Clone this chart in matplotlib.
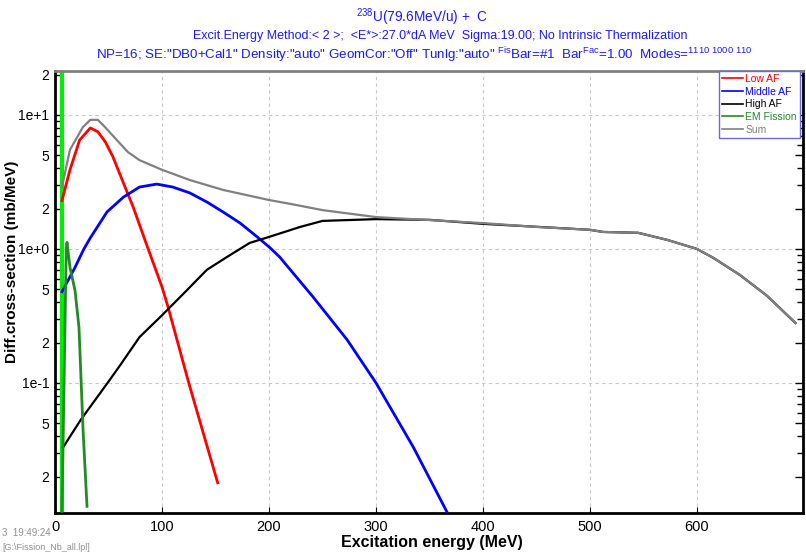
import matplotlib
matplotlib.use("Agg")
import matplotlib.pyplot as plt
from matplotlib.ticker import FixedLocator, FixedFormatter, NullFormatter

FAM = ["Liberation Sans Narrow", "Liberation Sans", "DejaVu Sans"]
plt.rcParams["font.family"] = FAM
plt.rcParams["mathtext.fontset"] = "custom"
plt.rcParams["mathtext.rm"] = "Liberation Sans"
plt.rcParams["mathtext.default"] = "regular"

# Low AF
low_e = [6.5, 14, 23, 33, 40, 47, 54, 64, 73, 84, 100, 105.6, 125, 152]
low_y = [2.3, 3.9, 6.5, 8.0, 7.5, 6.3, 4.9, 3.1, 2.06, 1.17, 0.52, 0.37, 0.1, 0.018]

# Middle AF
mid_e = [6.5, 18, 27, 33, 48.6, 64, 79, 95, 110, 126, 142, 157, 173, 189, 201,
         210, 241, 273, 300, 335, 366]
mid_y = [0.48, 0.71, 1.0, 1.21, 1.89, 2.44, 2.9, 3.05, 2.9, 2.62, 2.24, 1.89,
         1.56, 1.23, 1.02, 0.87, 0.44, 0.21, 0.1, 0.033, 0.011]

# High AF
high_e = [7.5, 24, 51, 61, 79, 100, 123, 142, 163.5, 182, 200, 229, 250, 300,
          350, 400, 453, 500, 512, 545, 572, 600, 615, 640, 665, 692]
high_y = [0.033, 0.053, 0.105, 0.136, 0.22, 0.32, 0.49, 0.70, 0.90, 1.11, 1.23,
          1.46, 1.62, 1.67, 1.65, 1.54, 1.46, 1.39, 1.34, 1.32, 1.17, 1.0,
          0.86, 0.64, 0.45, 0.28]

# EM fission
em_e = [6.5, 9.3, 10.5, 11.2, 14, 18.7, 22.4, 26.2, 29.9]
em_y = [0.011, 0.26, 1.0, 1.12, 0.73, 0.49, 0.26, 0.045, 0.012]
em_edge = 6.1

# Sum
sum_e = [6.5, 14, 26, 33, 40, 45, 68, 79, 100, 126, 157, 200, 220, 250, 300,
         400, 450, 500, 512, 545, 572, 600, 615, 640, 665, 692]
sum_y = [2.9, 5.5, 8.1, 9.2, 9.2, 8.4, 5.3, 4.6, 3.9, 3.27, 2.76, 2.32, 2.17,
         1.95, 1.73, 1.56, 1.46, 1.39, 1.34, 1.32, 1.17, 1.0, 0.86, 0.64,
         0.45, 0.28]

fig = plt.figure(figsize=(8.06, 5.55), dpi=100)
fig.patch.set_facecolor("white")
ax = fig.add_axes([55 / 806, 1 - 513 / 555, 748 / 806, 442 / 555])

ax.axvline(em_edge, color="#00ee00", lw=3, zorder=2)
ax.plot(low_e, low_y, color="#ff0000", lw=2, label="Low AF", zorder=3)
ax.plot(mid_e, mid_y, color="#0000ff", lw=2, label="Middle AF", zorder=3)
ax.plot(high_e, high_y, color="black", lw=1.6, label="High AF", zorder=3)
ax.plot(em_e, em_y, color="#228b22", lw=2, label="EM Fission", zorder=3)
ax.plot(sum_e, sum_y, color="#808080", lw=1.6, label="Sum", zorder=4)

ax.set_yscale("log")
ax.set_xlim(0, 699)
ax.set_ylim(0.0107, 21.3)

# y ticks
maj = [0.02, 0.05, 0.1, 0.2, 0.5, 1, 2, 5, 10, 20]
maj_lab = ["2", "5", "1e-1", "2", "5", "1e+0", "2", "5", "1e+1", "2"]
mnr = [0.03, 0.04, 0.06, 0.07, 0.08, 0.09, 0.3, 0.4, 0.6, 0.7, 0.8, 0.9,
       3, 4, 6, 7, 8, 9]
ax.yaxis.set_major_locator(FixedLocator(maj))
ax.yaxis.set_major_formatter(FixedFormatter(maj_lab))
ax.yaxis.set_minor_locator(FixedLocator(mnr))
ax.yaxis.set_minor_formatter(NullFormatter())
ax.set_xticks([0, 100, 200, 300, 400, 500, 600])

ax.tick_params(axis="y", which="both", direction="in", right=True,
               labelsize=10, pad=4)
ax.tick_params(axis="y", which="major", length=6, width=1)
ax.tick_params(axis="y", which="minor", length=4, width=1)
ax.tick_params(axis="x", direction="in", length=4, labelsize=10.5, pad=5)

# grid on decades and hundreds only
for v in [0.1, 1, 10]:
    ax.axhline(v, color="#c8c8c8", lw=0.8, ls=(0, (3, 3)), zorder=1)
for v in [100, 200, 300, 400, 500, 600]:
    ax.axvline(v, color="#c8c8c8", lw=0.8, ls=(0, (3, 3)), zorder=1)

for side in ["left", "bottom", "right"]:
    ax.spines[side].set_linewidth(2)
    ax.spines[side].set_color("black")
ax.spines["top"].set_linewidth(2)
ax.spines["top"].set_color("#808080")

leg = ax.legend(loc="upper right", bbox_to_anchor=(0.996, 1.0),
                borderaxespad=0, fontsize=7.5, handlelength=2.0,
                handletextpad=0.2, labelspacing=0.25, fancybox=False,
                framealpha=1, borderpad=0.3)
leg.get_frame().set_edgecolor("#6a6ae0")
leg.get_frame().set_linewidth(1)
for txt, line in zip(leg.get_texts(), leg.get_lines()):
    txt.set_color(line.get_color())
    line.set_linewidth(1.2)

# titles
tcol = "#1a1aff"
fig.text(422 / 806, 1 - 17 / 555, "$^{238}$U(79.6MeV/u) +  C",
         ha="center", va="center", color=tcol, fontsize=9.8)
fig.text(440 / 806, 1 - 36 / 555,
         "Excit.Energy Method:< 2 >;  <E*>:27.0*dA MeV  Sigma:19.00; No Intrinsic Thermalization",
         ha="center", va="center", color=tcol, fontsize=9.0)
fig.text(424 / 806, 1 - 55 / 555,
         'NP=16; SE:"DB0+Cal1" Density:"auto" GeomCor:"Off" Tunlg:"auto" '
         '$^{Fis}$Bar=#1  Bar$^{Fac}$=1.00  Modes=$^{1110\\ 1000\\ 110}$',
         ha="center", va="center", color=tcol, fontsize=9.6)

fig.text(432 / 806, 1 - 543 / 555, "Excitation energy (MeV)",
         ha="center", va="center", fontsize=11.5, fontweight="bold")
fig.text(12 / 806, 1 - 262 / 555, "Diff.cross-section (mb/MeV)",
         ha="center", va="center", rotation=90, fontsize=11,
         fontweight="bold", family=["Liberation Sans", "DejaVu Sans"])

fig.text(2 / 806, 1 - 533 / 555, "3  19:49:24", ha="left", va="center",
         fontsize=7, color="#909090")
fig.text(2 / 806, 1 - 548 / 555, "[G:\\Fission_Nb_all.lpl]", ha="left",
         va="center", fontsize=6.5, color="#909090")

fig.savefig("out.png", dpi=100, facecolor="white")
